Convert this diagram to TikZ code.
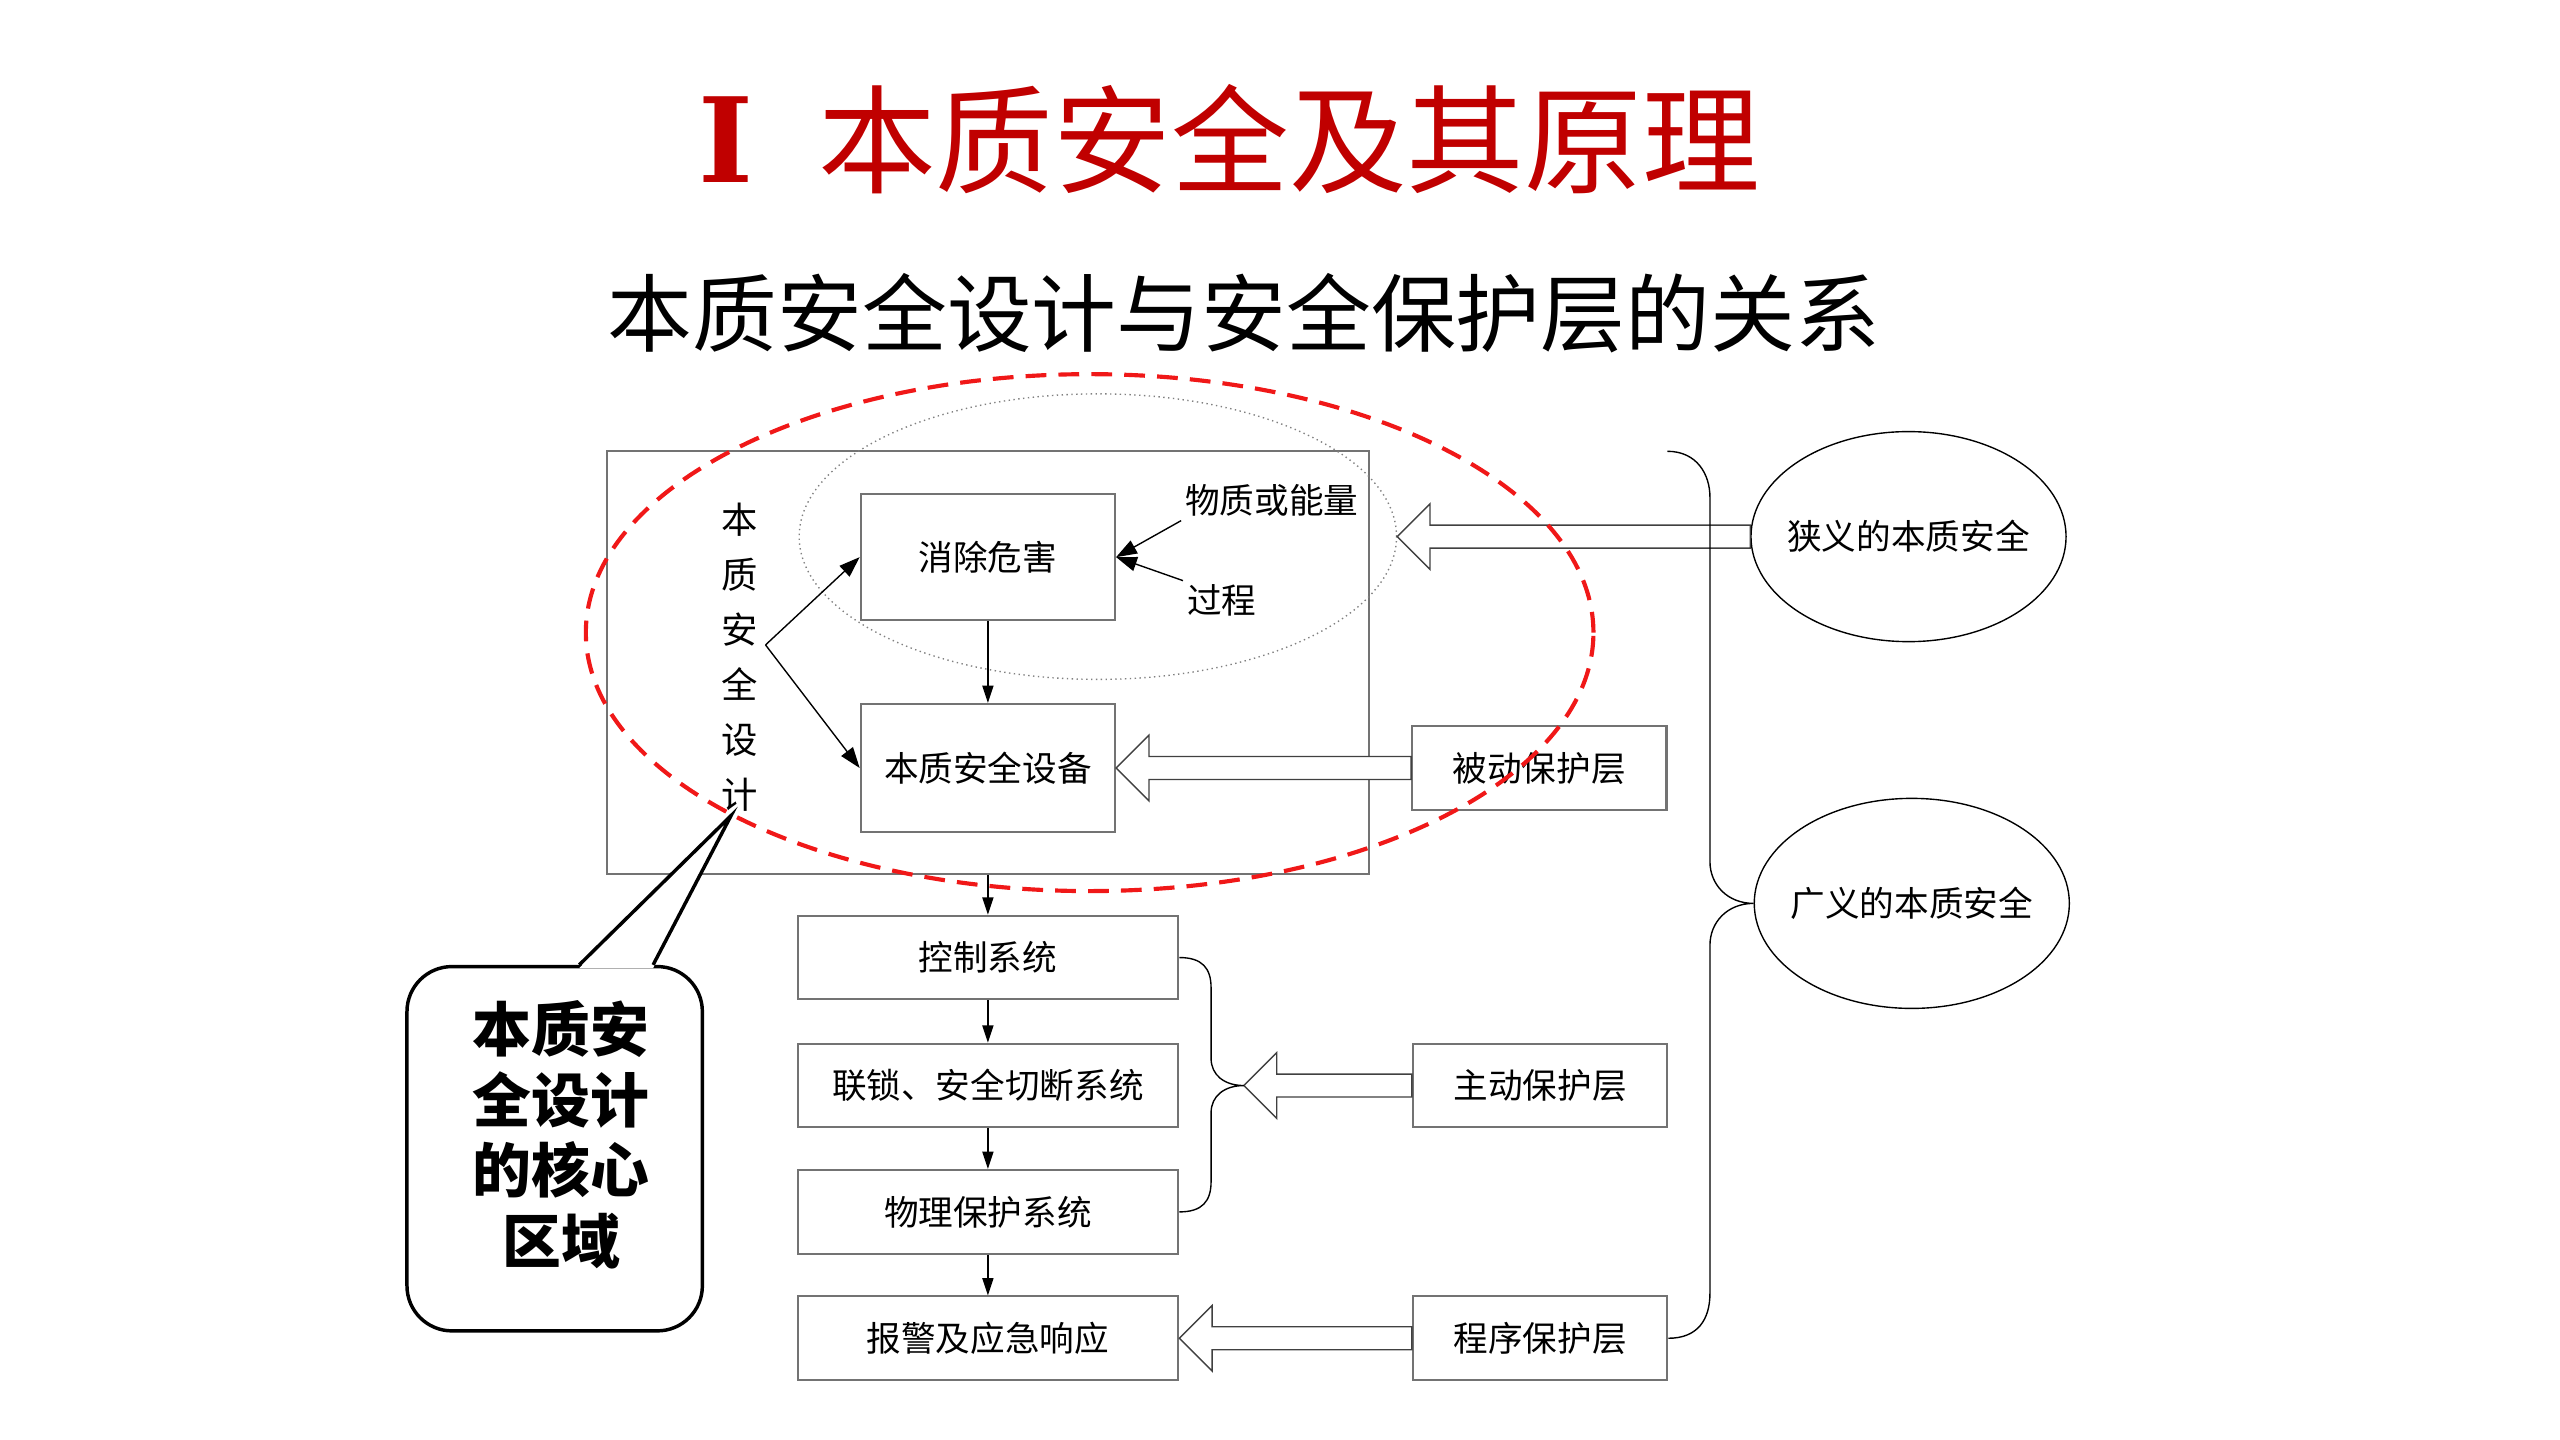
\documentclass[tikz,border=0pt]{standalone}
\usepackage{fontspec}
\setmainfont{Noto Sans CJK SC}
\newfontfamily\numeralfont{DejaVu Serif}
\usetikzlibrary{arrows.meta,shapes.geometric,calc}
\definecolor{titlered}{HTML}{C00000}
\definecolor{ringred}{HTML}{F01818}
\newcommand{\ux}{0.016667cm}
\newcommand{\hollowarrow}[2]{%
  \draw[hollow] (#1) -- ($(#1)+(20,-20)$) -- ($(#1)+(20,-7)$) -- ($(#1 -| #2)+(0,-7)$)
    -- ($(#1 -| #2)+(0,7)$) -- ($(#1)+(20,7)$) -- ($(#1)+(20,20)$) -- cycle;}
\begin{document}
\begin{tikzpicture}[x=\ux, y=-\ux,
    txt/.style={font=\fontsize{10}{12}\selectfont, inner sep=1pt},
    box/.style={draw=black!55, line width=0.6pt, minimum width=155*\ux, minimum height=77*\ux,
      inner sep=0pt, font=\fontsize{10}{12}\selectfont},
    layer/.style={box, minimum height=51*\ux},
    system/.style={box, minimum width=232*\ux, minimum height=51*\ux},
    oval/.style={ellipse, draw, line width=0.4pt, minimum width=192*\ux, minimum height=128*\ux,
      inner sep=0pt, font=\fontsize{10}{12}\selectfont},
    arr/.style={-{Triangle[length=5pt,width=3.2pt]}, line width=0.4pt},
    arr big/.style={-{Triangle[length=6pt,width=4.2pt]}, line width=0.4pt},
    hollow/.style={draw=black!75, fill=white, line width=0.4pt},
    brace/.style={draw, line width=0.4pt}]
  \useasboundingbox (0,0) rectangle (1560,877.5);

  \node[font=\numeralfont\fontsize{34}{40}\selectfont\bfseries, text=titlered, inner sep=0pt] (numeral) at (442.5,85) {Ⅰ};
  \node[font=\fontsize{34}{40}\selectfont, text=titlered, inner sep=0pt] (title) at (785.5,85) {本质安全及其原理};
  \node[font=\fontsize{24.5}{30}\selectfont, inner sep=0pt] (subtitle) at (758,191) {本质安全设计与安全保护层的关系};

  \node[draw=black!55, line width=0.6pt, minimum width=464.5*\ux, minimum height=257.5*\ux] (isdbox) at (602,403.75) {};
  \node[ellipse, draw=black!50, densely dotted, line width=0.4pt, minimum width=364*\ux, minimum height=174*\ux] (zone) at (669,327) {};

  \node[box] (elim) at (602,339.5) {消除危害};
  \node[box, minimum height=78*\ux] (isdev) at (602,468) {本质安全设备};
  \node[font=\fontsize{10.5}{15.84}\selectfont, align=center, inner sep=0pt] (isd) at (451,400.5) {本\\质\\安\\全\\设\\计};
  \coordinate (isdfork) at (466.5,393);
  \node[txt] (matter) at (775,305) {物质或能量};
  \node[txt] (process) at (744.5,366) {过程};

  \node[layer] (passive) at (938,468) {被动保护层};
  \node[layer] (active) at (938.5,661.5) {主动保护层};
  \node[layer] (procedure) at (938.5,815.5) {程序保护层};

  \node[system] (ctrl) at (602,583.5) {控制系统};
  \node[system] (sis) at (602,661.5) {联锁、安全切断系统};
  \node[system] (phys) at (602,738.5) {物理保护系统};
  \node[system] (alarm) at (602,815.5) {报警及应急响应};

  \node[oval] (narrow) at (1163,327) {\makebox[0pt]{狭义的本质安全}};
  \node[oval] (broad) at (1165,550.5) {\makebox[0pt]{广义的本质安全}};

  \draw[arr] (elim) -- (isdev);
  \draw[arr] (isdbox.south) -- (ctrl);
  \draw[arr] (ctrl) -- (sis);
  \draw[arr] (sis) -- (phys);
  \draw[arr] (phys) -- (alarm);
  \draw[arr big] (isdfork) -- (elim.west);
  \draw[arr big] (isdfork) -- (isdev.west);
  \draw[arr big] (matter.south west) -- (elim.east);
  \draw[arr big] (process.north west) -- (elim.east);

  \coordinate (bracetip) at (758,661.5);
  \coordinate (bracetop) at (1016,275);
  \hollowarrow{zone.east}{narrow.west}
  \hollowarrow{isdev.east}{passive.west}
  \hollowarrow{bracetip}{active.west}
  \hollowarrow{alarm.east}{procedure.west}

  \draw[brace] (ctrl.east) .. controls +(14,0) and +(0,-12) .. (738,602) -- (738,645)
    .. controls +(0,10) and +(-12,0) .. (bracetip) .. controls +(-12,0) and +(0,-10) .. (738,678)
    -- (738,720) .. controls +(0,12) and +(14,0) .. (phys.east);
  \draw[brace] (bracetop) .. controls +(18,0) and +(0,-14) .. (1042,303) -- (1042,525)
    .. controls +(0,14) and +(-16,0) .. (broad.west) .. controls +(-16,0) and +(0,-14) .. (1042,576)
    -- (1042,788) .. controls +(0,16) and +(18,0) .. (procedure.east);

  \node[ellipse, draw=ringred, dash pattern=on 6pt off 3.5pt, line width=1.2pt, minimum width=614*\ux, minimum height=315*\ux] (ring) at (664,385.5) {};

  \node[draw, line width=1pt, rounded corners=13pt, minimum width=180*\ux, minimum height=222*\ux] (core) at (338,700) {};
  \coordinate (coretip) at (445.5,497);
  \fill[white] ($(core.north)+(15,2)$) -- (coretip) -- ($(core.north)+(60,2)$) -- cycle;
  \draw[line width=1pt] ($(core.north)+(15,0)$) -- (coretip) -- ($(core.north)+(60,0)$);
  \node[font=\fontsize{17}{20.4}\selectfont\bfseries, align=center, inner sep=0pt] (coretext) at (342,691.5) {本质安\\全设计\\的核心\\区域};
\end{tikzpicture}
\end{document}
